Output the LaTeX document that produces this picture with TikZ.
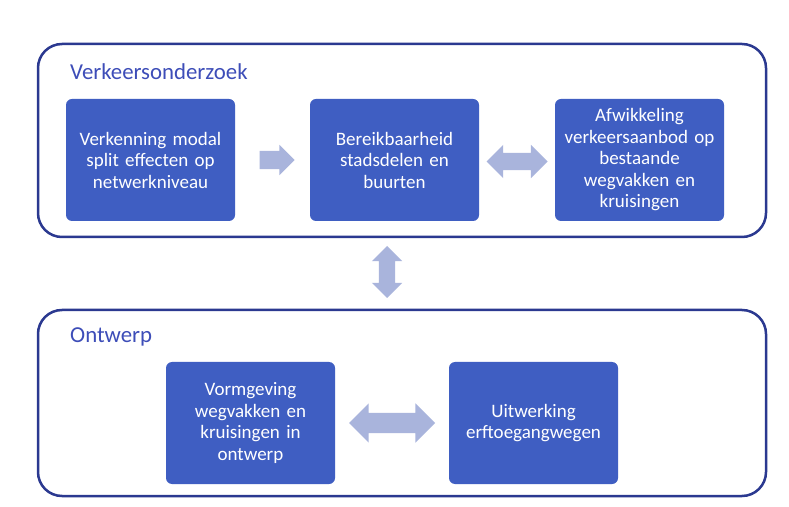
\documentclass[tikz,border=0pt]{standalone}
\usepackage{fontspec}
\setmainfont{Carlito}
\usetikzlibrary{shapes.arrows,calc}
\definecolor{frame}{HTML}{2B3990}
\definecolor{boxfill}{HTML}{3F5EC2}
\definecolor{arrowfill}{HTML}{A9B4DC}
\definecolor{titleblue}{HTML}{3D4DB8}
\tikzset{
  x=1pt, y=1pt,
  group/.style={draw=frame, line width=2.5pt, rounded corners=24pt},
  grouptitle/.style={anchor=base west, text=titleblue, font=\fontsize{22.8}{26}\selectfont, inner sep=0pt},
  stepbox/.style={fill=boxfill, rounded corners=6pt, minimum width=169pt, minimum height=122pt,
    text width=165pt, align=center, text=white, font=\fontsize{19}{21.5}\selectfont, inner sep=0pt},
  sarrow/.style={single arrow, fill=arrowfill, draw=none, inner sep=0pt},
  darrow/.style={double arrow, fill=arrowfill, draw=none, inner sep=0pt},
}
\begin{document}
\begin{tikzpicture}
\useasboundingbox (0,0) rectangle (789,506);
\fill[white] (0,0) rectangle (789,506);
% groups
\draw[group] (38,269) rectangle (766,462);
\draw[group] (38,10) rectangle (766,196);
\node[grouptitle] (t1) at (70,426) {Verkeersonderzoek};
\node[grouptitle] (t2) at (70,163) {Ontwerp};
% boxes
\node[stepbox] (A) at (150.5,346) {Verkenning modal\\split effecten op\\netwerkniveau};
\node[stepbox] (B) at (394.5,346) {Bereikbaarheid\\stadsdelen en\\buurten};
\node[stepbox] (C) at (639.5,346) {Afwikkeling\\verkeersaanbod op\\bestaande\\wegvakken en\\kruisingen};
\node[stepbox] (D) at (250.5,83) {Vormgeving\\wegvakken en\\kruisingen in\\ontwerp};
\node[stepbox] (E) at (533.5,83) {Uitwerking\\erftoegangwegen};
% arrows
\node[sarrow, minimum height=35pt, minimum width=30pt, single arrow head extend=6pt, inner ysep=9pt] (ab) at ($(A.east)!0.5!(B.west)$) {};
\node[darrow, minimum height=61pt, minimum width=33pt, double arrow head extend=8pt, inner ysep=8.5pt] (bc) at ($(B.east)!0.5!(C.west)+(0,-1.5)$) {};
\coordinate (vmid) at (387,234);
\node[darrow, shape border rotate=90, minimum height=52pt, minimum width=30pt, double arrow head extend=7pt, inner xsep=8pt] (v) at (vmid) {};
\node[darrow, minimum height=86pt, minimum width=39pt, double arrow head extend=9.5pt, inner ysep=10pt] (de) at ($(D.east)!0.5!(E.west)$) {};
\end{tikzpicture}
\end{document}
